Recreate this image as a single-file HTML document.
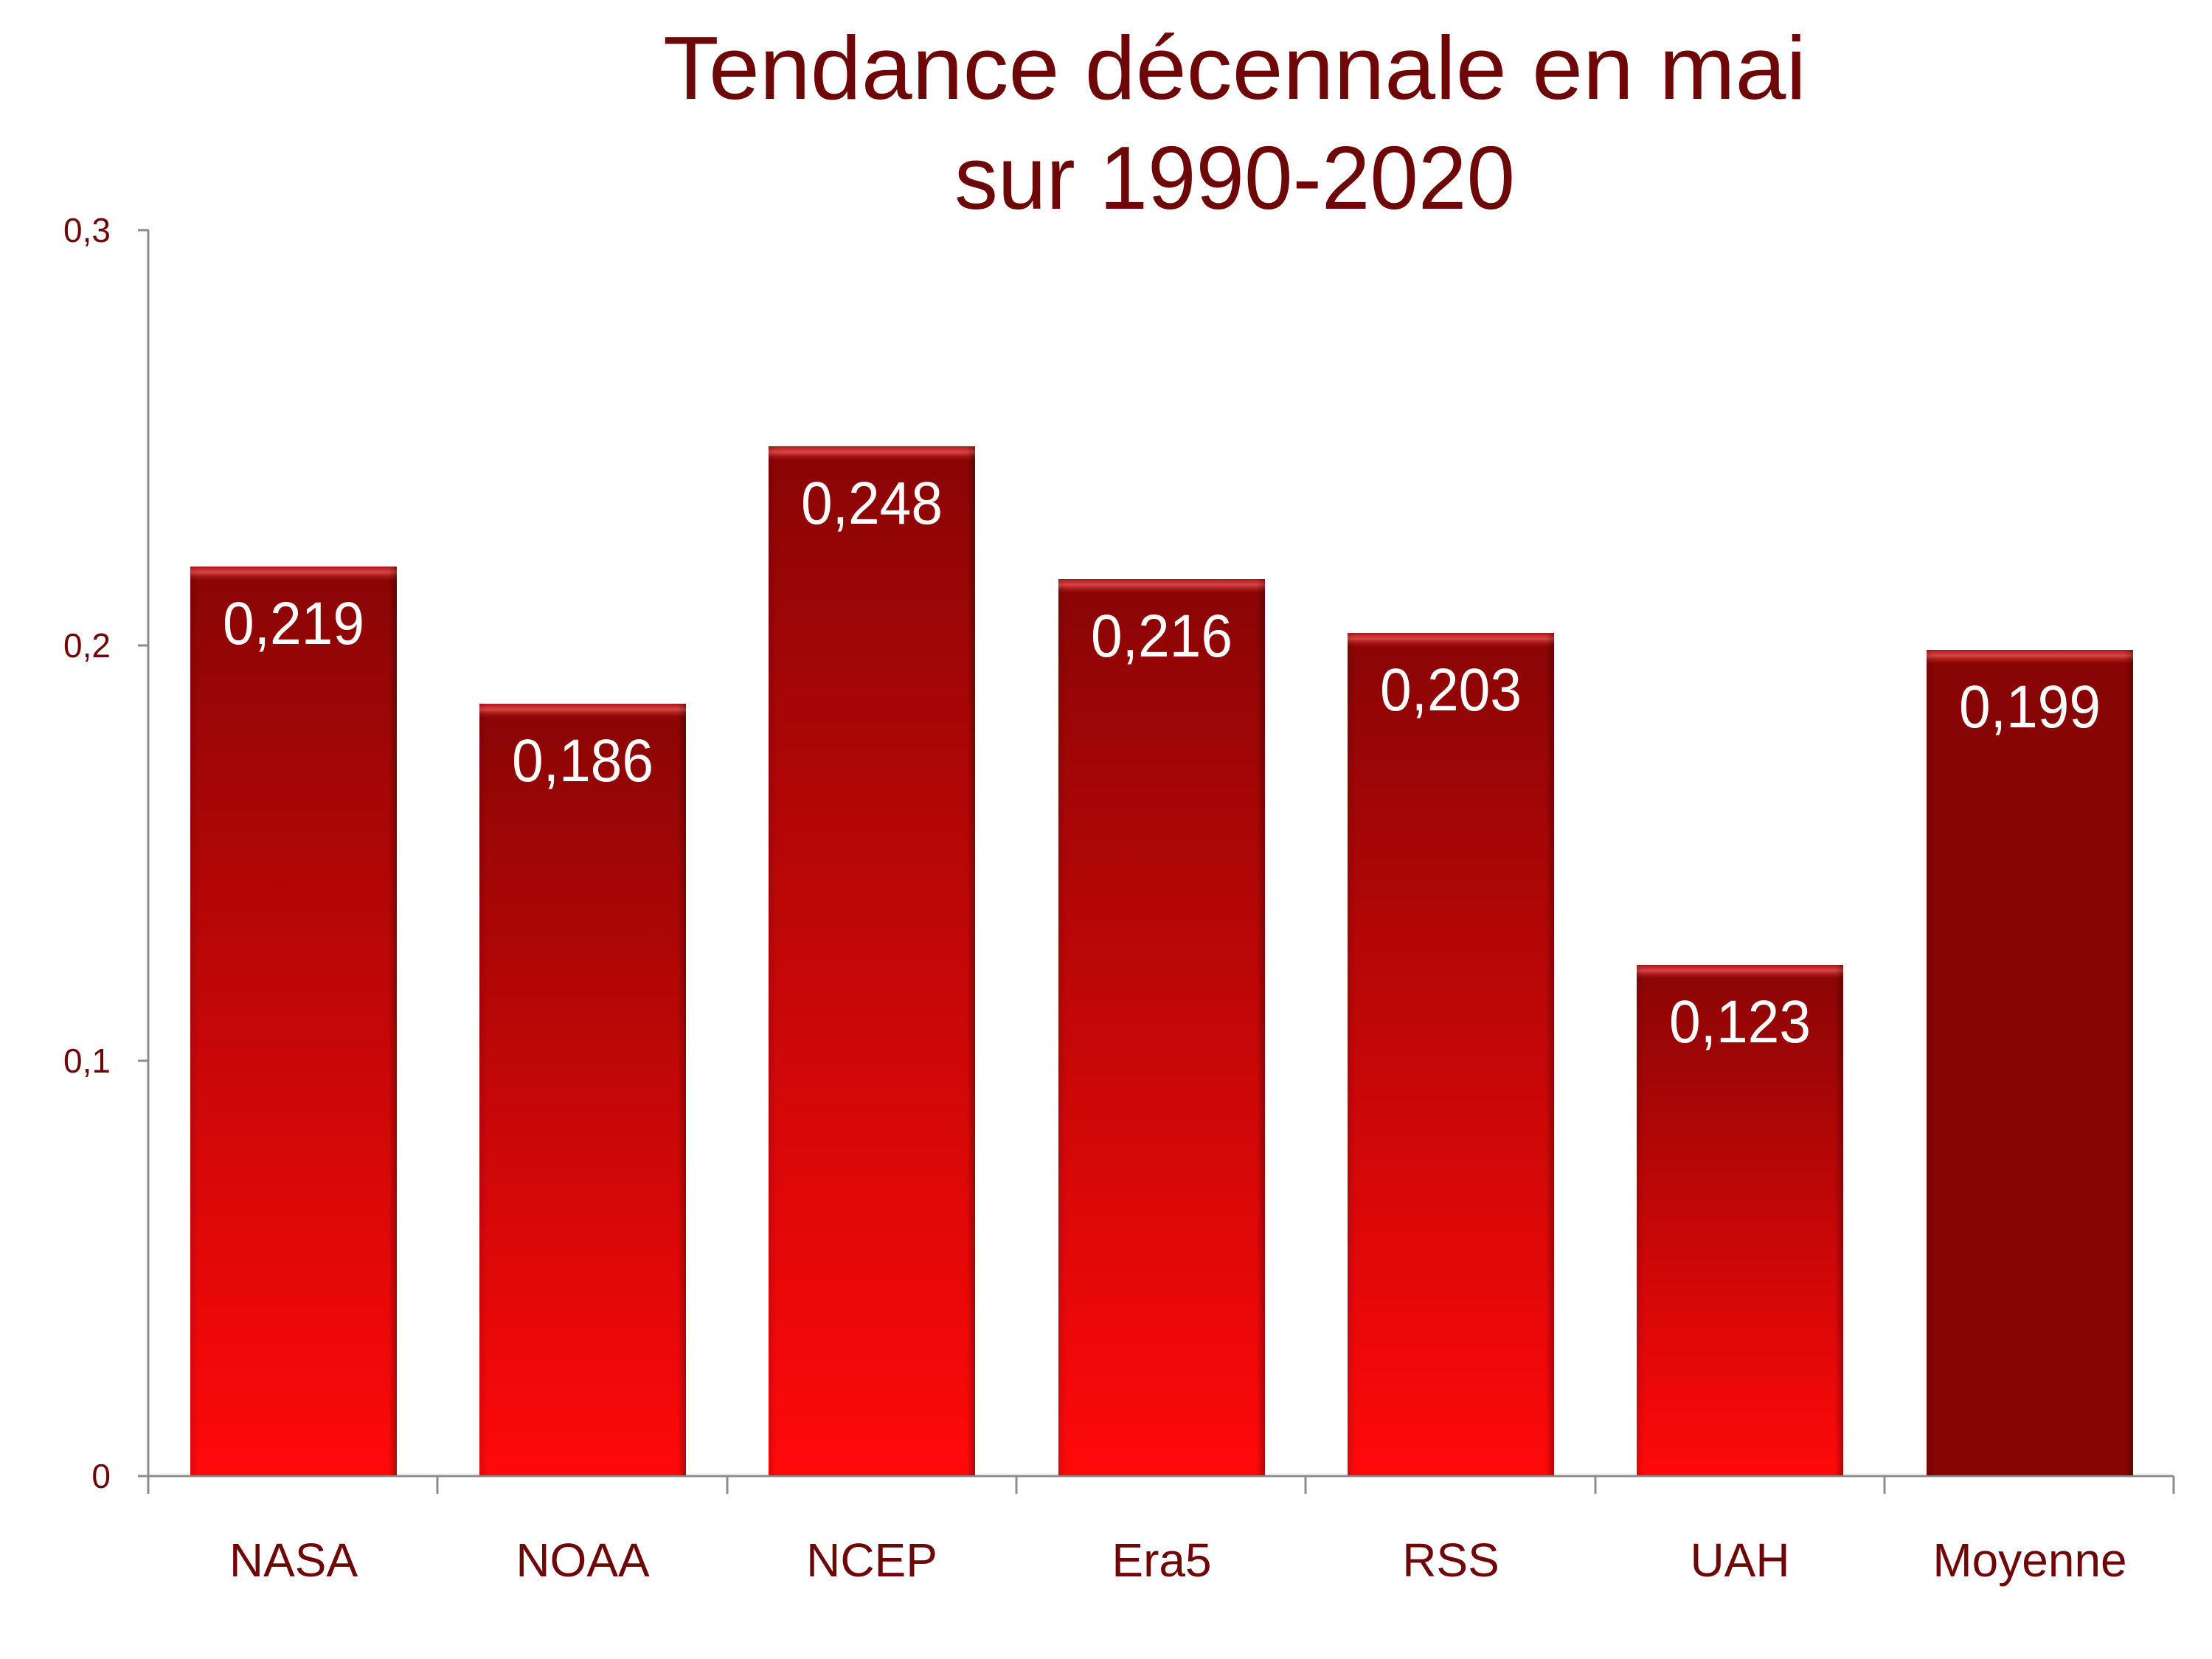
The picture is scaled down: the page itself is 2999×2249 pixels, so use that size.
<!DOCTYPE html>
<html><head><meta charset="utf-8"><style>html,body{margin:0;padding:0;background:#fff}svg{display:block}</style></head>
<body>
<svg width="2999" height="2249" viewBox="0 0 2999 2249" xmlns="http://www.w3.org/2000/svg" font-family="Liberation Sans, sans-serif">
<defs>
<linearGradient id="g" x1="0" y1="0" x2="0" y2="1"><stop offset="0" stop-color="#890505"/><stop offset="1" stop-color="#ff0909"/></linearGradient>
<linearGradient id="bev" x1="0" y1="0" x2="0" y2="1"><stop offset="0" stop-color="#b01818"/><stop offset="0.4" stop-color="#d84545"/><stop offset="1" stop-color="#a00a0a" stop-opacity="0"/></linearGradient>
<linearGradient id="side" x1="0" y1="0" x2="1" y2="0"><stop offset="0" stop-color="#000" stop-opacity="0.12"/><stop offset="0.04" stop-color="#000" stop-opacity="0"/><stop offset="0.96" stop-color="#000" stop-opacity="0"/><stop offset="1" stop-color="#000" stop-opacity="0.3"/></linearGradient>
</defs>
<text x="1674" y="134" font-size="122" fill="#6e0808" text-anchor="middle" textLength="1550" lengthAdjust="spacingAndGlyphs">Tendance décennale en mai</text>
<text x="1674" y="283" font-size="122" fill="#6e0808" text-anchor="middle" textLength="760" lengthAdjust="spacingAndGlyphs">sur 1990-2020</text>
<g font-size="46" fill="#6e0808" text-anchor="end">
<text x="150" y="328">0,3</text><text x="150" y="891">0,2</text><text x="150" y="1454">0,1</text><text x="150" y="2017">0</text>
</g>
<g stroke="#8c8c8c" stroke-width="3" fill="none">
<line x1="201" y1="311" x2="201" y2="2025"/>
<line x1="187" y1="2001" x2="2947" y2="2001"/>
<line x1="187" y1="312" x2="201" y2="312"/><line x1="187" y1="875" x2="201" y2="875"/><line x1="187" y1="1438" x2="201" y2="1438"/>
<line x1="593" y1="2001" x2="593" y2="2025"/><line x1="986" y1="2001" x2="986" y2="2025"/><line x1="1378" y1="2001" x2="1378" y2="2025"/><line x1="1770" y1="2001" x2="1770" y2="2025"/><line x1="2163" y1="2001" x2="2163" y2="2025"/><line x1="2555" y1="2001" x2="2555" y2="2025"/><line x1="2947" y1="2001" x2="2947" y2="2025"/>
</g>
<g>
<rect x="258" y="768" width="280" height="1232" fill="url(#g)"/><rect x="258" y="768" width="280" height="20" fill="url(#bev)"/><rect x="258" y="768" width="280" height="1232" fill="url(#side)"/>
<rect x="650" y="954" width="280" height="1046" fill="url(#g)"/><rect x="650" y="954" width="280" height="20" fill="url(#bev)"/><rect x="650" y="954" width="280" height="1046" fill="url(#side)"/>
<rect x="1042" y="605" width="280" height="1395" fill="url(#g)"/><rect x="1042" y="605" width="280" height="20" fill="url(#bev)"/><rect x="1042" y="605" width="280" height="1395" fill="url(#side)"/>
<rect x="1435" y="785" width="280" height="1215" fill="url(#g)"/><rect x="1435" y="785" width="280" height="20" fill="url(#bev)"/><rect x="1435" y="785" width="280" height="1215" fill="url(#side)"/>
<rect x="1827" y="858" width="280" height="1142" fill="url(#g)"/><rect x="1827" y="858" width="280" height="20" fill="url(#bev)"/><rect x="1827" y="858" width="280" height="1142" fill="url(#side)"/>
<rect x="2219" y="1308" width="280" height="692" fill="url(#g)"/><rect x="2219" y="1308" width="280" height="20" fill="url(#bev)"/><rect x="2219" y="1308" width="280" height="692" fill="url(#side)"/>
<rect x="2612" y="881" width="280" height="1119" fill="#880505"/><rect x="2612" y="881" width="280" height="20" fill="url(#bev)"/><rect x="2612" y="881" width="280" height="1119" fill="url(#side)"/>
</g>
<g font-size="82" fill="#fff" text-anchor="middle">
<text x="398" y="873" textLength="192" lengthAdjust="spacingAndGlyphs">0,219</text>
<text x="790" y="1059" textLength="192" lengthAdjust="spacingAndGlyphs">0,186</text>
<text x="1182" y="710" textLength="192" lengthAdjust="spacingAndGlyphs">0,248</text>
<text x="1575" y="890" textLength="192" lengthAdjust="spacingAndGlyphs">0,216</text>
<text x="1967" y="963" textLength="192" lengthAdjust="spacingAndGlyphs">0,203</text>
<text x="2359" y="1413" textLength="192" lengthAdjust="spacingAndGlyphs">0,123</text>
<text x="2752" y="986" textLength="192" lengthAdjust="spacingAndGlyphs">0,199</text>
</g>
<g font-size="64" fill="#6e0808" text-anchor="middle">
<text x="398" y="2137">NASA</text><text x="790" y="2137">NOAA</text><text x="1182" y="2137">NCEP</text><text x="1575" y="2137">Era5</text><text x="1967" y="2137">RSS</text><text x="2359" y="2137">UAH</text><text x="2752" y="2137">Moyenne</text>
</g>
</svg>
</body></html>
